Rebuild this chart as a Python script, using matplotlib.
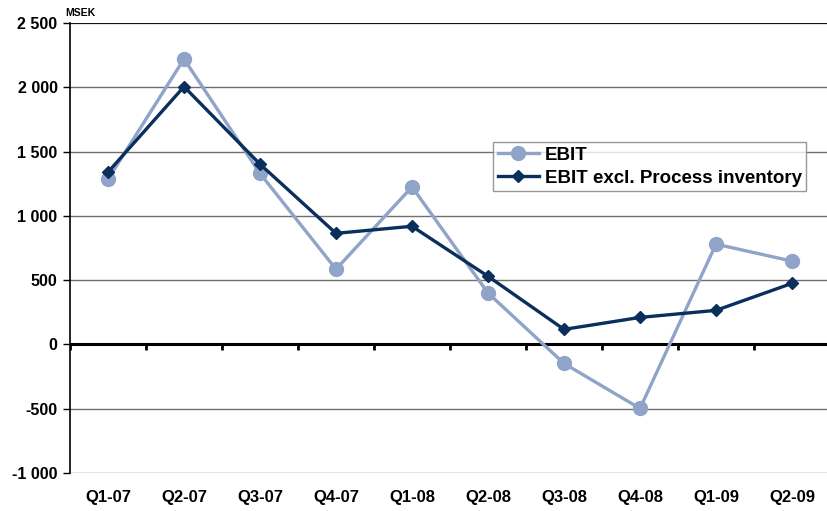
import numpy as np
import matplotlib.pyplot as plt

plt.rcParams['font.family'] = ['Liberation Sans', 'DejaVu Sans']
plt.rcParams['font.weight'] = 'bold'

# kvartal och resultat (MSEK)
quarters = ['Q1-07', 'Q2-07', 'Q3-07', 'Q4-07', 'Q1-08', 'Q2-08', 'Q3-08', 'Q4-08', 'Q1-09', 'Q2-09']
ebit = [1285, 2220, 1330, 585, 1225, 400, -148, -498, 780, 648]
ebit_excl = [1340, 2005, 1402, 864, 919, 530, 117, 210, 265, 475]

light = '#90a3c8'
dark = '#0b2f5c'

fig = plt.figure(figsize=(8.27, 5.11), dpi=100)
ax = fig.add_axes([70 / 827, 1 - 473 / 511, 760 / 827, 450 / 511])

x = np.arange(len(quarters))
ax.plot(x, ebit, color=light, lw=2.4, marker='o', ms=10, label='EBIT', zorder=3)
ax.plot(x, ebit_excl, color=dark, lw=2.4, marker='D', ms=6.5, label='EBIT excl. Process inventory', zorder=4)

ax.set_xlim(-0.5, len(quarters) - 0.5)
ax.set_ylim(-1000, 2500)
ax.set_yticks(np.arange(-1000, 2501, 500))
ax.set_yticklabels([f'{v:,}'.replace(',', ' ') for v in range(-1000, 2501, 500)])
ax.yaxis.grid(True, color='#6f6f6f', lw=1)
ax.set_axisbelow(True)

# nollinje med streck mellan kvartalen
ax.axhline(0, color='black', lw=2.2, zorder=2)
ax.vlines(np.arange(-0.5, len(quarters)), -40, 0, color='black', lw=2, zorder=2)

ax.set_xticks(x)
ax.set_xticklabels(quarters)
ax.tick_params(axis='x', length=0, pad=12, labelsize=12)
ax.tick_params(axis='y', length=5, width=1, color='black', pad=4, labelsize=11.5)

for s in ['top', 'right', 'bottom']:
    ax.spines[s].set_visible(False)
ax.spines['left'].set_color('black')
ax.spines['left'].set_linewidth(1.2)
ax.axhline(2500, color='black', lw=1.2)

fig.text(65 / 827, 1 - 13 / 511, 'MSEK', fontsize=7.5, fontweight='bold', va='center')

leg = ax.legend(loc='upper left', bbox_to_anchor=((493 - 70) / 760, (473 - 142) / 450),
                fontsize=13.5, frameon=True, fancybox=False, edgecolor='#7f7f7f',
                borderpad=0.25, handlelength=2.2, handletextpad=0.3, labelspacing=0.3,
                borderaxespad=0)
leg.get_frame().set_linewidth(1)

fig.savefig('out.png', dpi=100)
